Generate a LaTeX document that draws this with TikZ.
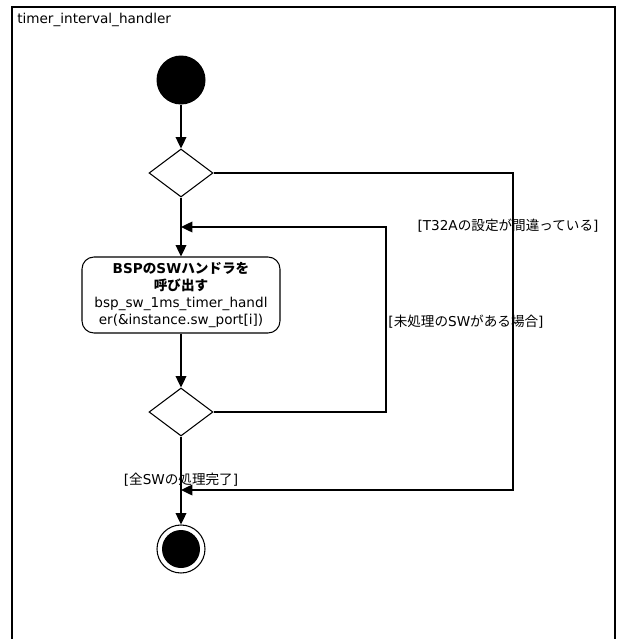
\documentclass[tikz,border=0pt]{standalone}
\usepackage{fontspec}
\setmainfont{DejaVu Sans}
\newfontfamily\jpfont{Noto Sans CJK JP}
\newcommand{\jp}[1]{{\jpfont #1}}
\usetikzlibrary{arrows.meta,shapes.geometric}
\tikzset{
  flow/.style={line width=1pt,-{Triangle[length=8.5pt,width=8pt]}},
  link/.style={line width=1pt},
  decision/.style={diamond,draw,line width=0.8pt,minimum width=48pt,minimum height=36pt,inner sep=0pt},
  action/.style={rectangle,rounded corners=9pt,draw,line width=0.8pt,minimum width=148.5pt,minimum height=57pt,align=center,inner sep=2pt},
  guard/.style={inner sep=0pt}
}

\begin{document}
\begin{tikzpicture}[x=0.75pt,y=-0.75pt,font=\fontsize{10.2}{12.75}\selectfont]
			%%%%% START %%%%%
			\useasboundingbox (0,0) rectangle (619,639);
			
			% frame
			\draw[line width=1.5pt] (12,7) rectangle (615,680);
			\node[anchor=west,inner sep=0pt] (title) at (17,20) {timer\_interval\_handler};
			
			% states
			\node[circle,fill=black,minimum size=36.75pt,inner sep=0pt] (start) at (181,80) {};
			\node[decision] (check) at (181,173) {};
			\node[action] (callsw) at (181,295) {\bfseries BSP\jp{の}SW\jp{ハンドラを}\\ \bfseries\jp{呼び出す}\\ bsp\_sw\_1ms\_timer\_handl\\ er(\&instance.sw\_port[i])};
			\node[decision] (more) at (181,412) {};
			\node[circle,draw,line width=0.8pt,minimum size=36pt,inner sep=0pt] (stop) at (181,549) {};
			\fill (stop.center) circle (14.25pt);
			
			\coordinate (loopin) at (181,227);
			\coordinate (mergein) at (181,490);
			\coordinate (loopcorner) at (386,227);
			\coordinate (errcorner) at (513,490);
			
			% connectors
			\draw[flow] (start) -- (check);
			\draw[flow] (check) -- (callsw);
			\draw[flow] (callsw) -- (more);
			\draw[flow] (more) -- (stop);
			\draw[flow] (more.east) -| (loopcorner) -- (loopin);
			\draw[flow] (check.east) -| (errcorner) -- (mergein);
			
			% guards
			\node[guard] (gerr) at (508,226) {[T32A\jp{の設定が間違っている}]};
			\node[guard] (gmore) at (466,322) {[\jp{未処理の}SW\jp{がある場合}]};
			\node[guard] (gdone) at (181,480) {[\jp{全}SW\jp{の処理完了}]};
			
			%%%%% END %%%%%
\end{tikzpicture}
\end{document}
